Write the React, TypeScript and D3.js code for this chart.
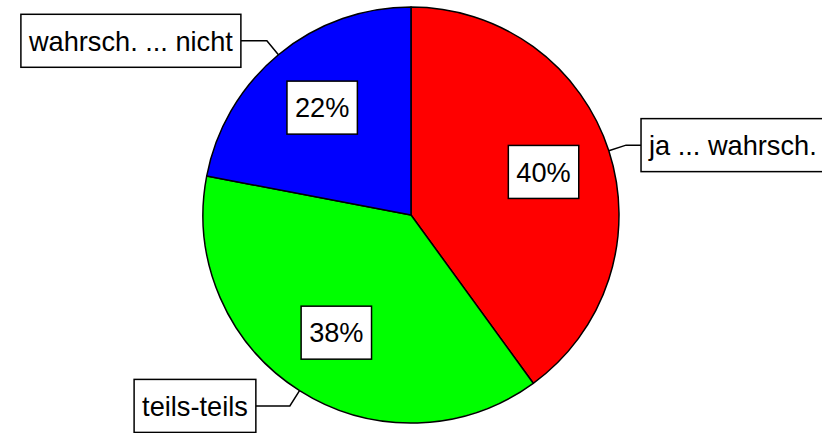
import React, { useMemo, useEffect } from "react";
import * as d3 from "d3";

const categories = ["ja ... wahrsch.", "teils-teils", "wahrsch. ... nicht"];
const values = [40, 38, 22];
const percentLabels = ["40%", "38%", "22%"];
const colors = ["#ff0000", "#00ff00", "#0000ff"];
// horizontal leader segment length per label (layout)
const leaderLengths = [15, 34, 26];

const W = 822;
const H = 433;
const CX = 411;
const CY = 215;
const R = 208;
const FONT = "Liberation Sans, Arial, sans-serif";
const FS = 27.2;

let ctx: CanvasRenderingContext2D | null = null;
function textWidth(t: string) {
  if (!ctx) ctx = document.createElement("canvas").getContext("2d");
  if (!ctx) return t.length * FS * 0.5;
  ctx.font = `${FS}px ${FONT}`;
  return ctx.measureText(t).width;
}

export default function App() {
  useEffect(() => {
    document.body.style.margin = "0";
  }, []);

  const arcs = useMemo(
    () => d3.pie<number>().sort(null).value((d) => d)(values),
    []
  );
  const arcGen = d3.arc<d3.PieArcDatum<number>>().innerRadius(0).outerRadius(R);
  const padX = 8;
  const boxH = 53;

  return (
    <svg width={W} height={H} style={{ position: "absolute", left: 0, top: 0, background: "#fff" }}>
      <g transform={`translate(${CX},${CY})`}>
        {arcs.map((a, i) => (
          <path key={i} d={arcGen(a) || ""} fill={colors[i]} stroke="#000" strokeWidth={1.5} strokeLinejoin="round" />
        ))}
        {arcs.map((a, i) => {
          const mid = (a.startAngle + a.endAngle) / 2;
          const rl = R * 0.67;
          const x = Math.sin(mid) * rl;
          const y = -Math.cos(mid) * rl;
          const tw = textWidth(percentLabels[i]);
          const bw = tw + padX * 2;
          return (
            <g key={"in" + i}>
              <rect x={x - bw / 2} y={y - boxH / 2} width={bw} height={boxH} fill="#fff" stroke="#000" strokeWidth={1.5} />
              <text x={x} y={y} dy="0.36em" textAnchor="middle" fontFamily={FONT} fontSize={FS} fill="#000">
                {percentLabels[i]}
              </text>
            </g>
          );
        })}
        {arcs.map((a, i) => {
          const mid = (a.startAngle + a.endAngle) / 2;
          const sx = Math.sin(mid) * R;
          const sy = -Math.cos(mid) * R;
          const er = R * 1.087;
          const ex = Math.sin(mid) * er;
          const ey = -Math.cos(mid) * er;
          const right = Math.sin(mid) > 0;
          const hx = ex + (right ? leaderLengths[i] : -leaderLengths[i]);
          const tw = textWidth(categories[i]);
          const bw = tw + padX * 2;
          const bx = right ? hx : hx - bw;
          return (
            <g key={"out" + i}>
              <polyline points={`${sx},${sy} ${ex},${ey} ${hx},${ey}`} fill="none" stroke="#000" strokeWidth={1.5} />
              <rect x={bx} y={ey - boxH / 2} width={bw} height={boxH} fill="#fff" stroke="#000" strokeWidth={1.5} />
              <text x={bx + bw / 2} y={ey} dy="0.36em" textAnchor="middle" fontFamily={FONT} fontSize={FS} fill="#000">
                {categories[i]}
              </text>
            </g>
          );
        })}
      </g>
    </svg>
  );
}
